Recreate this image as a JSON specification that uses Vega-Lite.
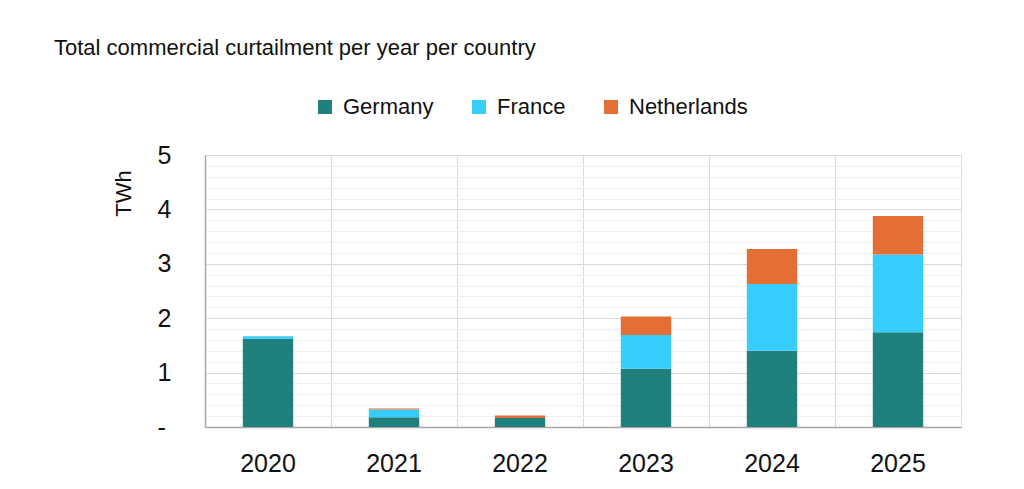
{
  "$schema": "https://vega.github.io/schema/vega-lite/v6.json",
  "width": 756,
  "height": 272,
  "autosize": {"type": "none"},
  "padding": {"left": 205, "top": 155, "right": 63, "bottom": 62},
  "background": "white",
  "title": {
    "text": "Total commercial curtailment per year per country",
    "anchor": "start",
    "frame": "group",
    "dx": -151,
    "font": "Liberation Sans",
    "fontSize": 22,
    "fontWeight": "normal",
    "color": "#111111",
    "offset": 36
  },
  "config": {
    "view": {"stroke": "#d9d9d9", "strokeWidth": 1}
  },
  "data": {
    "values": [
      {"year": "2020", "country": "Germany", "twh": 1.62},
      {"year": "2020", "country": "France", "twh": 0.05},
      {"year": "2020", "country": "Netherlands", "twh": 0.0},
      {"year": "2021", "country": "Germany", "twh": 0.18},
      {"year": "2021", "country": "France", "twh": 0.14},
      {"year": "2021", "country": "Netherlands", "twh": 0.02},
      {"year": "2022", "country": "Germany", "twh": 0.165},
      {"year": "2022", "country": "France", "twh": 0.0},
      {"year": "2022", "country": "Netherlands", "twh": 0.045},
      {"year": "2023", "country": "Germany", "twh": 1.07},
      {"year": "2023", "country": "France", "twh": 0.62},
      {"year": "2023", "country": "Netherlands", "twh": 0.34},
      {"year": "2024", "country": "Germany", "twh": 1.4},
      {"year": "2024", "country": "France", "twh": 1.23},
      {"year": "2024", "country": "Netherlands", "twh": 0.64},
      {"year": "2025", "country": "Germany", "twh": 1.74},
      {"year": "2025", "country": "France", "twh": 1.43},
      {"year": "2025", "country": "Netherlands", "twh": 0.71}
    ]
  },
  "transform": [
    {"calculate": "indexof(['Germany', 'France', 'Netherlands'], datum.country)", "as": "stackOrder"}
  ],
  "mark": {"type": "bar", "width": {"band": 0.4}},
  "encoding": {
    "x": {
      "field": "year",
      "type": "nominal",
      "scale": {"paddingInner": 0, "paddingOuter": 0},
      "axis": {
        "title": null,
        "labelAngle": 0,
        "labelFont": "Liberation Sans",
        "labelFontSize": 25,
        "labelColor": "#111111",
        "labelPadding": 24,
        "ticks": false,
        "domainColor": "#a6a6a6",
        "domainWidth": 1.5,
        "grid": true,
        "gridColor": "#d9d9d9",
        "gridWidth": 1,
        "bandPosition": 0
      }
    },
    "y": {
      "field": "twh",
      "type": "quantitative",
      "stack": "zero",
      "scale": {"domain": [0, 5], "nice": false},
      "axis": {
        "title": "TWh",
        "titleFont": "Liberation Sans",
        "titleFontSize": 22,
        "titleFontWeight": "normal",
        "titleColor": "#111111",
        "titleAngle": -90,
        "titleX": -82,
        "titleY": 38,
        "titleAlign": "center",
        "titleBaseline": "middle",
        "values": [0, 0.2, 0.4, 0.6, 0.8, 1, 1.2, 1.4, 1.6, 1.8, 2, 2.2, 2.4, 2.6, 2.8, 3, 3.2, 3.4, 3.6, 3.8, 4, 4.2, 4.4, 4.6, 4.8, 5],
        "labelExpr": "abs(datum.value - round(datum.value)) > 0.001 ? '' : (datum.value == 0 ? '-' : format(datum.value, 'd'))",
        "labelFont": "Liberation Sans",
        "labelFontSize": 25,
        "labelColor": "#111111",
        "labelAlign": "left",
        "labelPadding": 48,
        "ticks": false,
        "domainColor": "#a6a6a6",
        "domainWidth": 1.5,
        "grid": true,
        "gridColor": {"condition": {"test": "abs(datum.value - round(datum.value)) < 0.001", "value": "#d9d9d9"}, "value": "#efefef"},
        "gridWidth": 1.2
      }
    },
    "color": {
      "field": "country",
      "type": "nominal",
      "sort": ["Germany", "France", "Netherlands"],
      "scale": {"domain": ["Germany", "France", "Netherlands"], "range": ["#1f807d", "#36cdfb", "#e46f34"]},
      "legend": {
        "title": null,
        "orient": "none",
        "direction": "horizontal",
        "legendX": 109,
        "legendY": -59,
        "symbolType": "square",
        "symbolSize": 196,
        "symbolStrokeWidth": 0,
        "labelFont": "Liberation Sans",
        "labelFontSize": 22,
        "labelColor": "#111111",
        "labelOffset": 7,
        "columnPadding": 34
      }
    },
    "order": {"field": "stackOrder", "type": "quantitative", "sort": "ascending"}
  }
}
